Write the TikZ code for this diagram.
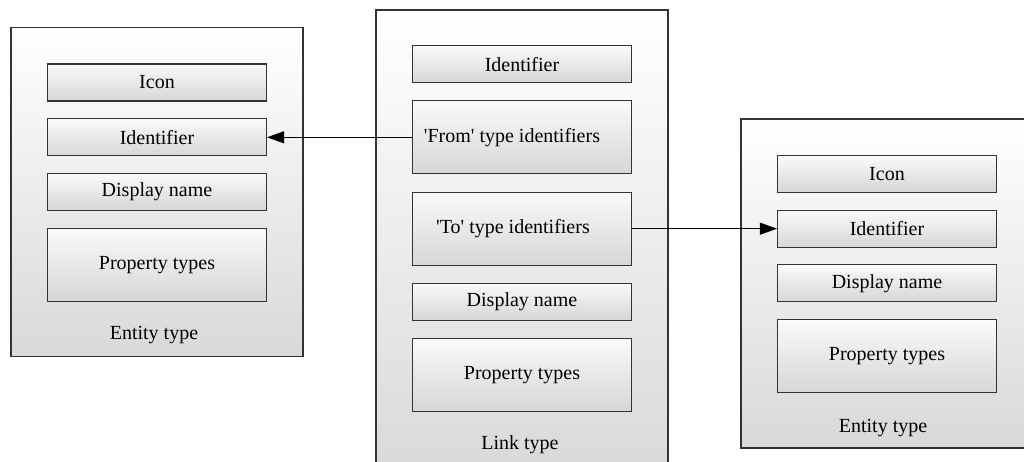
\documentclass[tikz,border=0pt]{standalone}
\usepackage{fontspec}
\setmainfont{Liberation Serif}
\usetikzlibrary{arrows.meta}
\tikzset{
  outerbox/.style={draw=black!80, line width=1.1pt, rectangle, inner sep=0pt,
    top color=white, bottom color=black!15},
  inbox/.style={draw=black!80, line width=1.1pt, rectangle, inner sep=0pt,
    top color=black!2, bottom color=black!16, minimum width=219pt,
    font=\fontsize{20}{24}\selectfont},
  lbl/.style={font=\fontsize{20}{24}\selectfont, inner sep=0pt},
  conn/.style={draw=black, line width=0.9pt, -{Triangle[length=17pt,width=12pt]}}
}
\begin{document}
\begin{tikzpicture}[x=1pt,y=-1pt]
\clip (0,0) rectangle (1024,461);
\fill[white] (0,0) rectangle (1024,461);
% outer containers
\node[outerbox, minimum width=292pt, minimum height=329pt] (lent) at (157,192) {};
\node[outerbox, minimum width=292pt, minimum height=470pt] (link) at (522,245) {};
\node[outerbox, minimum width=292pt, minimum height=329pt] (rent) at (887,283.5) {};
% left entity type
\node[inbox, minimum height=37pt] (licon) at (157,82.5) {Icon};
\node[inbox, minimum height=37pt] (lid) at (157,137.3) {Identifier};
\node[inbox, minimum height=37pt] (ldisp) at (157,192) {Display name};
\node[inbox, minimum height=73pt] (lprop) at (157,265) {Property types};
\node[lbl] (llab) at (154,335) {Entity type};
% link type
\node[inbox, minimum height=37pt] (kid) at (522,64.3) {Identifier};
\node[inbox, minimum height=73pt] (kfrom) at (522,137.3) {};
\node[lbl] at (512,137.3) {\textquotesingle From\textquotesingle{} type identifiers};
\node[inbox, minimum height=73pt] (kto) at (522,228.7) {};
\node[lbl] at (513,228.7) {\textquotesingle To\textquotesingle{} type identifiers};
\node[inbox, minimum height=37pt] (kdisp) at (522,301.7) {Display name};
\node[inbox, minimum height=73pt] (kprop) at (522,374.7) {Property types};
\node[lbl] (klab) at (520,445) {Link type};
% right entity type
\node[inbox, minimum height=37pt] (ricon) at (887,174) {Icon};
\node[inbox, minimum height=37pt] (rid) at (887,228.7) {Identifier};
\node[inbox, minimum height=37pt] (rdisp) at (887,283.3) {Display name};
\node[inbox, minimum height=73pt] (rprop) at (887,356.3) {Property types};
\node[lbl] (rlab) at (883,428.3) {Entity type};
% connectors
\draw[conn] (kfrom.west) -- (lid.east);
\draw[conn] (kto.east) -- (rid.west);
\end{tikzpicture}
\end{document}
